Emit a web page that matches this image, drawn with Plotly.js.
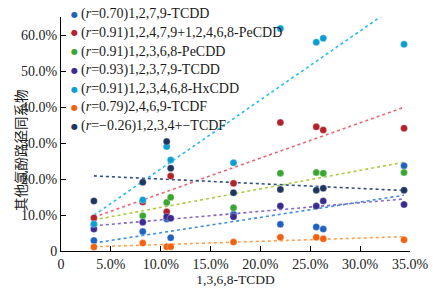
<!DOCTYPE html>
<html>
<head>
<meta charset="utf-8">
<script src="https://cdn.plot.ly/plotly-3.0.1.min.js"></script>
<style>html,body{margin:0;padding:0;background:#fff;}</style>
</head>
<body>
<div id="chart" style="width:433px;height:292px;"></div>
<script>
// Sample x values: 1,3,6,8-TCDD share (%)
const xTCDD = [3.3, 8.2, 10.6, 11.0, 17.3, 22.0, 25.6, 26.3, 34.4];

// Series values (%)
const s1279TCDD   = [2.9, 5.4, 8.9, 3.7, 10.2, 7.4, 6.7, 6.1, 23.7];
const sPeCDDmix   = [9.2, 13.6, 10.9, 20.8, 18.8, 35.7, 34.5, 33.6, 34.1];
const s12368PeCDD = [7.3, 9.8, 13.5, 14.9, 12.0, 21.6, 21.8, 21.6, 21.8];
const s12379TCDD  = [6.1, 8.0, 9.5, 9.1, 9.5, 12.5, 12.5, 13.9, 12.9];
const sHxCDD      = [7.5, 14.2, 29.0, 25.3, 24.5, 61.8, 58.0, 59.1, 57.4];
const s2469TCDF   = [1.1, 2.2, 1.2, 1.2, 2.5, 3.8, 3.8, 3.4, 3.1];
const s1234TCDF   = [13.9, 19.1, 30.4, 23.0, 16.2, 17.1, 16.9, 17.4, 16.9];

const seriesNames = ["1,2,7,9-TCDD", "1,2,4,7,9+1,2,4,6,8-PeCDD", "1,2,3,6,8-PeCDD",
  "1,2,3,7,9-TCDD", "1,2,3,4,6,8-HxCDD", "2,4,6,9-TCDF", "1,2,3,4+\u2212TCDF"];
const rValues = ["0.70", "0.91", "0.91", "0.93", "0.91", "0.79", "\u22120.26"];

const xTickVals = [0, 5, 10, 15, 20, 25, 30, 35];
const xTickText = ["0", "5.0%", "10.0%", "15.0%", "20.0%", "25.0%", "30.0%", "35.0%"];
const yTickVals = [0, 10, 20, 30, 40, 50, 60];
const yTickText = ["0", "10.0%", "20.0%", "30.0%", "40.0%", "50.0%", "60.0%"];

const allSeries = [s1279TCDD, sPeCDDmix, s12368PeCDD, s12379TCDD, sHxCDD, s2469TCDF, s1234TCDF];
const markerColors = ["#1f62bd", "#b3212b", "#3ba531", "#3a2b8e", "#0a9fd2", "#f0620f", "#1d355f"];
const lineColors   = ["#3b8fe0", "#e26873", "#a9cd42", "#8566c6", "#27bdf2", "#ffa14a", "#2f4f85"];

function fit(x, y) {
  const n = x.length;
  const mx = x.reduce((a, b) => a + b, 0) / n;
  const my = y.reduce((a, b) => a + b, 0) / n;
  let sxy = 0, sxx = 0;
  for (let i = 0; i < n; i++) { sxy += (x[i] - mx) * (y[i] - my); sxx += (x[i] - mx) ** 2; }
  const b = sxy / sxx;
  return { b: b, a: my - b * mx };
}

const xMin = Math.min(...xTCDD), xMax = Math.max(...xTCDD);
const traces = [];
allSeries.forEach((ys, i) => {
  const f = fit(xTCDD, ys);
  traces.push({
    x: [xMin, xMax], y: [f.a + f.b * xMin, f.a + f.b * xMax],
    type: "scatter", mode: "lines", showlegend: false, hoverinfo: "skip",
    line: { color: lineColors[i], width: 1.6, dash: "dot" }
  });
});
allSeries.forEach((ys, i) => {
  traces.push({
    x: xTCDD, y: ys, type: "scatter", mode: "markers", showlegend: false,
    name: seriesNames[i],
    marker: { color: markerColors[i], size: 7, line: { color: "rgba(255,255,255,0.6)", width: 0.5 } }
  });
});

// Custom legend (text + dot) in paper coordinates
const plotL = 61, plotR = 410, plotT = 17, plotB = 251;
const legendRowsPx = [14, 33, 51.5, 70, 89, 107.5, 126];
const annotations = [];
seriesNames.forEach((nm, i) => {
  const yp = (plotB - legendRowsPx[i]) / (plotB - plotT);
  annotations.push({
    xref: "paper", yref: "paper", x: (74 - plotL) / (plotR - plotL), y: yp,
    xanchor: "center", yanchor: "middle", showarrow: false,
    text: "\u25CF", font: { family: "DejaVu Sans", size: 8, color: markerColors[i] }
  });
  annotations.push({
    xref: "paper", yref: "paper", x: (79 - plotL) / (plotR - plotL), y: yp,
    xanchor: "left", yanchor: "middle", showarrow: false,
    text: "(<i>r</i>=" + rValues[i] + ")" + nm,
    font: { family: "Liberation Serif, Times New Roman, serif", size: 14, color: "#1a1a1a" }
  });
});
annotations.push({
  xref: "paper", yref: "paper", x: (20 - plotL) / (plotR - plotL), y: (plotB - 150) / (plotB - plotT),
  xanchor: "center", yanchor: "middle", showarrow: false, textangle: -90,
  text: "其他氯酚路径同系物",
  font: { family: "Noto Sans CJK SC", size: 13.5, color: "#1a1a1a" }
});

const tickFont = { family: "Liberation Serif, Times New Roman, serif", size: 14, color: "#222" };
const layout = {
  width: 433, height: 292,
  margin: { l: plotL, r: 433 - plotR, t: plotT, b: 292 - plotB },
  paper_bgcolor: "#fff", plot_bgcolor: "#fff",
  showlegend: false,
  xaxis: {
    range: [0, 35], tickvals: xTickVals, ticktext: xTickText,
    showline: true, linecolor: "#000", linewidth: 1, mirror: false,
    ticks: "inside", ticklen: 5, tickcolor: "#000", tickwidth: 1,
    showgrid: false, zeroline: false, tickfont: tickFont,
    title: { text: "1,3,6,8-TCDD", font: { family: "Liberation Serif, Times New Roman, serif", size: 13.5, color: "#1a1a1a" }, standoff: 2 }
  },
  yaxis: {
    range: [0, 65], tickvals: yTickVals, ticktext: yTickText,
    showline: true, linecolor: "#000", linewidth: 1,
    ticks: "inside", ticklen: 5, tickcolor: "#000", tickwidth: 1,
    showgrid: false, zeroline: false, tickfont: tickFont
  },
  annotations: annotations
};

Plotly.newPlot("chart", traces, layout, { staticPlot: true, displayModeBar: false });
</script>
</body>
</html>
